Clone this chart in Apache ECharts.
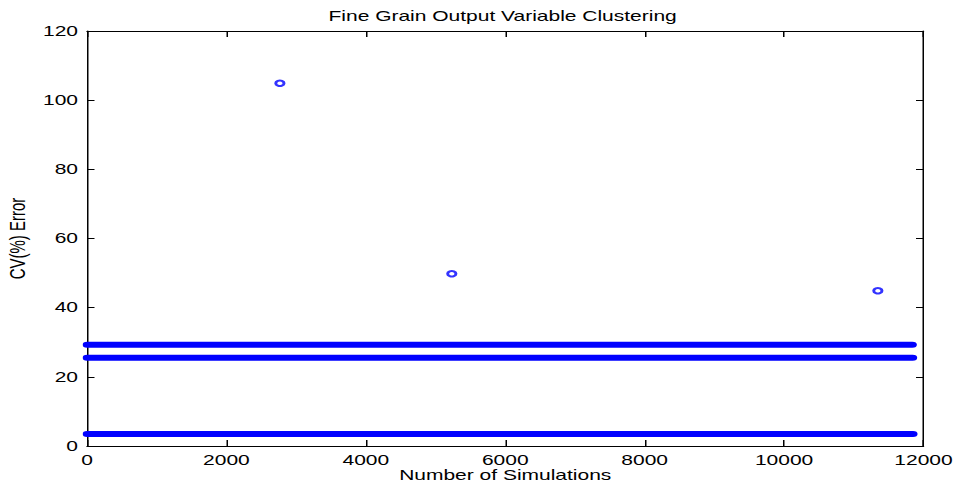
<!DOCTYPE html>
<html>
<head>
<meta charset="utf-8">
<script src="https://cdn.jsdelivr.net/npm/echarts@6/dist/echarts.min.js"></script>
<style>
html,body{margin:0;padding:0;background:#fff;overflow:hidden;}
#wrap{width:959px;height:491px;overflow:hidden;position:relative;}
#chart{width:639.33px;height:491px;transform:scaleX(1.5);transform-origin:0 0;}
</style>
</head>
<body>
<div id="wrap"><div id="chart"></div></div>
<script>
// ---- data ----
const chartTitle = 'Fine Grain Output Variable Clustering';
const xName = 'Number of Simulations';
const yName = 'CV(%) Error';
// dense clusters of points (thousands of overlapping markers forming bands)
const bandLevels = [3.5, 25.5, 29.3];
const bandStartX = [1, 1, 1];
const bandEndX = [11850, 11845, 11840];
// isolated outliers
const outlierX = [2767, 5233, 11345];
const outlierY = [104.9, 49.8, 44.9];
const xRange = [0, 12000, 2000];
const yRange = [0, 120, 20];

const FONT = 'Liberation Sans, Arial, Helvetica, sans-serif';
const BLUE = '#0000ff';

const chart = echarts.init(document.getElementById('chart'), null, {renderer: 'svg'});

const series = bandLevels.map((lv, i) => ({
  type: 'line',
  data: [[bandStartX[i], lv], [bandEndX[i], lv]],
  showSymbol: false,
  symbol: 'none',
  clip: false,
  silent: true,
  animation: false,
  lineStyle: {color: BLUE, width: 6, cap: 'round'}
}));
series.push({
  type: 'scatter',
  data: outlierX.map((x, i) => [x, outlierY[i]]),
  symbol: 'emptyCircle',
  symbolSize: 5.5,
  itemStyle: {color: BLUE, borderColor: BLUE, borderWidth: 0.7},
  animation: false
});

const axisLine = {show: true, onZero: false, lineStyle: {color: '#000', width: 1}};
const labelStyle = {color: '#000', fontSize: 14, fontFamily: FONT, formatter: v => String(v)};

chart.setOption({
  backgroundColor: '#fff',
  animation: false,
  title: {
    text: chartTitle,
    left: 219,
    top: 9,
    padding: 0,
    textStyle: {fontSize: 14, fontWeight: 'normal', color: '#000', fontFamily: FONT}
  },
  grid: {left: 58, right: 23.33, top: 31, bottom: 45, containLabel: false, outerBoundsMode: 'none'},
  xAxis: [{
    type: 'value', position: 'bottom',
    min: xRange[0], max: xRange[1], interval: xRange[2],
    axisLine: axisLine,
    axisTick: {show: true, inside: true, length: 6, lineStyle: {color: '#000'}},
    axisLabel: Object.assign({margin: 7}, labelStyle),
    splitLine: {show: false},
    name: xName, nameLocation: 'middle', nameGap: 22, nameMoveOverlap: false,
    nameTextStyle: {fontSize: 14, color: '#000', fontFamily: FONT}
  }, {
    type: 'value', position: 'top',
    min: xRange[0], max: xRange[1], interval: xRange[2],
    axisLine: axisLine,
    axisTick: {show: true, inside: true, length: 6, lineStyle: {color: '#000'}},
    axisLabel: {show: false},
    splitLine: {show: false}
  }],
  yAxis: [{
    type: 'value', position: 'left',
    min: yRange[0], max: yRange[1], interval: yRange[2],
    axisLine: axisLine,
    axisTick: {show: true, inside: true, length: 5, lineStyle: {color: '#000'}},
    axisLabel: Object.assign({margin: 6}, labelStyle),
    splitLine: {show: false},
    name: yName, nameLocation: 'middle', nameGap: 39, nameRotate: 90, nameMoveOverlap: false,
    nameTextStyle: {fontSize: 15, color: '#000', fontFamily: FONT}
  }, {
    type: 'value', position: 'right',
    min: yRange[0], max: yRange[1], interval: yRange[2],
    axisLine: axisLine,
    axisTick: {show: true, inside: true, length: 5, lineStyle: {color: '#000'}},
    axisLabel: {show: false},
    splitLine: {show: false}
  }],
  series: series
});
</script>
</body>
</html>
